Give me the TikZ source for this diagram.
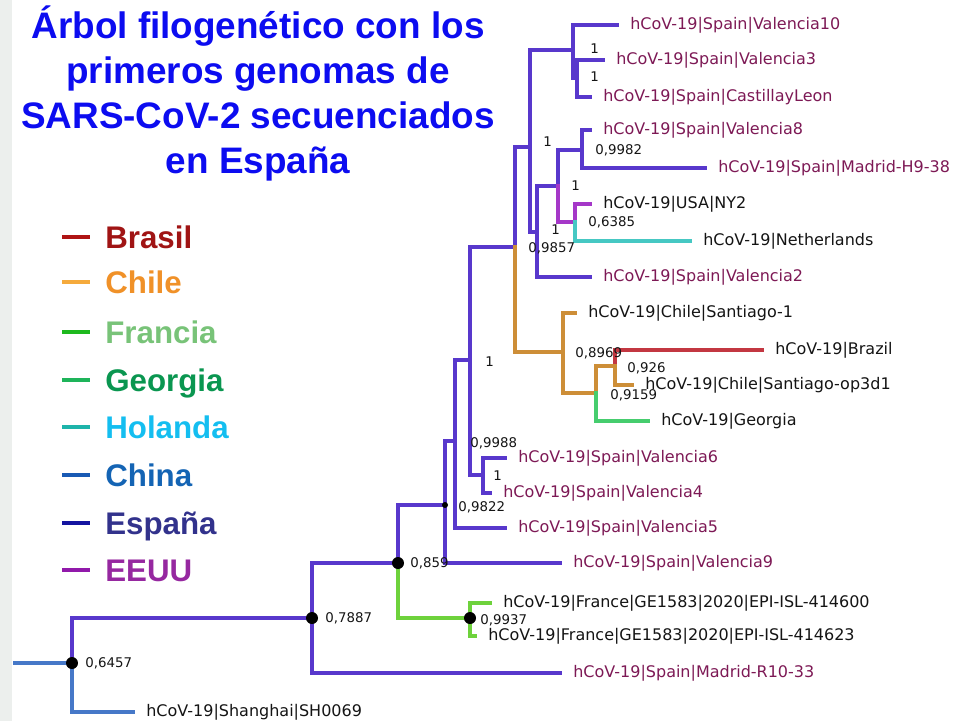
\documentclass[tikz,border=0pt]{standalone}
\usepackage{fontspec}
\setmainfont{Liberation Sans}
\newfontfamily\treefont{DejaVu Sans}

\definecolor{espBr}{RGB}{88,56,204}
\definecolor{chinaBr}{RGB}{70,120,200}
\definecolor{chileBr}{RGB}{205,142,55}
\definecolor{brazilBr}{RGB}{195,55,65}
\definecolor{franceBr}{RGB}{110,210,60}
\definecolor{georgiaBr}{RGB}{70,205,110}
\definecolor{nlBr}{RGB}{70,200,195}
\definecolor{usaBr}{RGB}{165,55,200}
\definecolor{espTxt}{RGB}{125,25,85}
\definecolor{othTxt}{RGB}{20,20,20}
\definecolor{ttlBlue}{RGB}{12,12,240}
\definecolor{slideGray}{RGB}{236,239,237}

\tikzset{
  br/.style={line width=2.3pt, line cap=rect},
  leaf/.style={anchor=west, inner xsep=7.4pt, inner ysep=1pt, font=\treefont\fontsize{9.1}{10}\selectfont},
  esplbl/.style={leaf, text=espTxt},
  othlbl/.style={leaf, text=othTxt},
  bs/.style={anchor=west, inner sep=0pt, text=othTxt, font=\treefont\fontsize{7.6}{8}\selectfont},
  dot/.style={circle, fill=black, inner sep=0pt, minimum size=0.24cm},
  smalldot/.style={circle, fill=black, inner sep=0pt, minimum size=0.12cm},
  ttl/.style={anchor=base, inner sep=0pt, text=ttlBlue, font=\bfseries\fontsize{21}{25}\selectfont},
  legtxt/.style={anchor=base west, inner sep=0pt, font=\bfseries\fontsize{17.8}{20}\selectfont},
  legbar/.style={line width=2.8pt}
}

\begin{document}
\begin{tikzpicture}[x=0.02cm, y=-0.02cm]
\useasboundingbox (0,0) rectangle (960,721);
\fill[slideGray] (0,0) rectangle (12,721);

% title
\node[ttl] (t1) at (258,38) {Árbol filogenético con los};
\node[ttl] (t2) at (258,83) {primeros genomas de};
\node[ttl] (t3) at (258,128) {SARS-CoV-2 secuenciados};
\node[ttl] (t4) at (258,173) {en España};

% legend
\draw[legbar, color={rgb,255:red,175;green,20;blue,20}] (62,237) -- (90,237);
\node[legtxt, text={rgb,255:red,160;green,20;blue,20}] (kBrasil) at (105,248) {Brasil};
\draw[legbar, color={rgb,255:red,245;green,170;blue,60}] (62,282) -- (90,282);
\node[legtxt, text={rgb,255:red,240;green,145;blue,40}] (kChile) at (105,293) {Chile};
\draw[legbar, color={rgb,255:red,30;green,185;blue,30}] (62,332) -- (90,332);
\node[legtxt, text={rgb,255:red,120;green,195;blue,120}] (kFrancia) at (105,343) {Francia};
\draw[legbar, color={rgb,255:red,30;green,180;blue,90}] (62,380) -- (90,380);
\node[legtxt, text={rgb,255:red,10;green,150;blue,80}] (kGeorgia) at (105,391) {Georgia};
\draw[legbar, color={rgb,255:red,30;green,180;blue,170}] (62,427) -- (90,427);
\node[legtxt, text={rgb,255:red,20;green,190;blue,240}] (kHolanda) at (105,438) {Holanda};
\draw[legbar, color={rgb,255:red,25;green,90;blue,180}] (62,475) -- (90,475);
\node[legtxt, text={rgb,255:red,20;green,100;blue,180}] (kChina) at (105,486) {China};
\draw[legbar, color={rgb,255:red,20;green,20;blue,160}] (62,523) -- (90,523);
\node[legtxt, text={rgb,255:red,50;green,50;blue,140}] (kEsp) at (105,534) {España};
\draw[legbar, color={rgb,255:red,145;green,25;blue,170}] (62,570) -- (90,570);
\node[legtxt, text={rgb,255:red,150;green,40;blue,160}] (kEEUU) at (105,581) {EEUU};

% leaves
\node[esplbl] (v10) at (617,25) {hCoV-19|Spain|Valencia10};
\node[esplbl] (v3) at (603,60) {hCoV-19|Spain|Valencia3};
\node[esplbl] (cyl) at (590,97) {hCoV-19|Spain|CastillayLeon};
\node[esplbl] (v8) at (590,130) {hCoV-19|Spain|Valencia8};
\node[esplbl] (mh9) at (705,168) {hCoV-19|Spain|Madrid-H9-38};
\node[othlbl] (ny2) at (590,204) {hCoV-19|USA|NY2};
\node[othlbl] (nl) at (690,241) {hCoV-19|Netherlands};
\node[esplbl] (v2) at (590,277) {hCoV-19|Spain|Valencia2};
\node[othlbl] (sg1) at (575,313) {hCoV-19|Chile|Santiago-1};
\node[othlbl] (bra) at (762,350) {hCoV-19|Brazil};
\node[othlbl] (op3) at (632,385) {hCoV-19|Chile|Santiago-op3d1};
\node[othlbl] (geo) at (648,421) {hCoV-19|Georgia};
\node[esplbl] (v6) at (505,458) {hCoV-19|Spain|Valencia6};
\node[esplbl] (v4) at (490,493) {hCoV-19|Spain|Valencia4};
\node[esplbl] (v5) at (505,528) {hCoV-19|Spain|Valencia5};
\node[esplbl] (v9) at (560,563) {hCoV-19|Spain|Valencia9};
\node[othlbl] (fr1) at (490,603) {hCoV-19|France|GE1583|2020|EPI-ISL-414600};
\node[othlbl] (fr2) at (475,636) {hCoV-19|France|GE1583|2020|EPI-ISL-414623};
\node[esplbl] (mr10) at (560,673) {hCoV-19|Spain|Madrid-R10-33};
\node[othlbl] (sh) at (133,712) {hCoV-19|Shanghai|SH0069};

% internal nodes
\coordinate (s0) at (15,663);
\coordinate (r) at (72,663);
\coordinate (n7887) at (312,618);
\coordinate (n859) at (398,563);
\coordinate (n9937) at (470,618);
\coordinate (n9822) at (445,505);
\coordinate (n9988) at (455,441);
\coordinate (nA) at (470,360);
\coordinate (nB) at (483,475);
\coordinate (n9857) at (515,247);
\coordinate (nC) at (530,147);
\coordinate (nD) at (537,232);
\coordinate (nE) at (558,186);
\coordinate (n9982) at (582,150);
\coordinate (n6385) at (575,222);
\coordinate (nF) at (573,50);
\coordinate (nG) at (577,78);
\coordinate (n8969) at (563,352);
\coordinate (n9159) at (596,393);
\coordinate (n926) at (615,366);

% branches
\draw[br, chinaBr] (s0) -- (r);
\draw[br, chinaBr] (r) |- (sh.west);
\draw[br, espBr] (r) |- (n7887);
\draw[br, espBr] (n7887) |- (n859);
\draw[br, espBr] (n7887) |- (mr10.west);
\draw[br, espBr] (n859) |- (n9822);
\draw[br, franceBr] (n859) |- (n9937);
\draw[br, franceBr] (n9937) |- (fr1.west);
\draw[br, franceBr] (n9937) |- (fr2.west);
\draw[br, espBr] (n9822) |- (n9988);
\draw[br, espBr] (n9822) |- (v9.west);
\draw[br, espBr] (n9988) |- (nA);
\draw[br, espBr] (n9988) |- (v5.west);
\draw[br, espBr] (nA) |- (n9857);
\draw[br, espBr] (nA) |- (nB);
\draw[br, espBr] (nB) |- (v6.west);
\draw[br, espBr] (nB) |- (v4.west);
\draw[br, espBr] (n9857) |- (nC);
\draw[br, chileBr] (n9857) |- (n8969);
\draw[br, chileBr] (n8969) |- (sg1.west);
\draw[br, chileBr] (n8969) |- (n9159);
\draw[br, chileBr] (n9159) |- (n926);
\draw[br, georgiaBr] (n9159) |- (geo.west);
\draw[br, brazilBr] (n926) |- (bra.west);
\draw[br, chileBr] (n926) |- (op3.west);
\draw[br, espBr] (nC) |- (nF);
\draw[br, espBr] (nC) |- (nD);
\draw[br, espBr] (nD) |- (nE);
\draw[br, espBr] (nD) |- (v2.west);
\draw[br, espBr] (nE) |- (n9982);
\draw[br, usaBr] (nE) |- (n6385);
\draw[br, espBr] (n9982) |- (v8.west);
\draw[br, espBr] (n9982) |- (mh9.west);
\draw[br, usaBr] (n6385) |- (ny2.west);
\draw[br, nlBr] (n6385) |- (nl.west);
\draw[br, espBr] (nF) |- (v10.west);
\draw[br, espBr] (nF) |- (nG);
\draw[br, espBr] (nG) |- (v3.west);
\draw[br, espBr] (nG) |- (cyl.west);

% dots
\node[dot] (dr) at (r) {};
\node[dot] (d7887) at (n7887) {};
\node[dot] (d859) at (n859) {};
\node[dot] (d9937) at (n9937) {};
\node[smalldot] (d9822) at (n9822) {};

% support values
\node[bs] (b6457) at (85,663) {0,6457};
\node[bs] (b7887) at (325,618) {0,7887};
\node[bs] (b859) at (410,563) {0,859};
\node[bs] (b9937) at (480,620) {0,9937};
\node[bs] (b9822) at (458,507) {0,9822};
\node[bs] (b9988) at (470,443) {0,9988};
\node[bs] (bA) at (485,362) {1};
\node[bs] (bB) at (493,476) {1};
\node[bs] (b9857) at (528,248) {0,9857};
\node[bs] (bD) at (551,230) {1};
\node[bs] (bC) at (543,142) {1};
\node[bs] (bE) at (571,186) {1};
\node[bs] (b9982) at (595,150) {0,9982};
\node[bs] (b6385) at (588,222) {0,6385};
\node[bs] (bF) at (590,49) {1};
\node[bs] (bG) at (590,77) {1};
\node[bs] (b8969) at (575,353) {0,8969};
\node[bs] (b926) at (627,368) {0,926};
\node[bs] (b9159) at (610,395) {0,9159};
\end{tikzpicture}
\end{document}
